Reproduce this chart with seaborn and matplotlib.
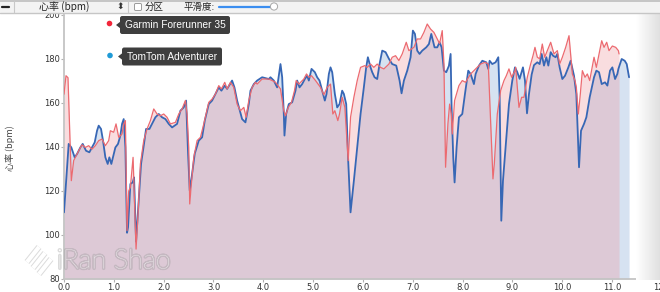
import numpy as np
import pandas as pd
import matplotlib
matplotlib.use("Agg")
import matplotlib.pyplot as plt
from matplotlib.patches import Rectangle, FancyBboxPatch, Polygon, Circle
import matplotlib.patheffects as pe
import seaborn as sns

# ---------------- data ----------------
garmin_km = [0, 0.04, 0.08, 0.147, 0.194, 0.295, 0.361, 0.428, 0.495, 0.562,
             0.629, 0.696, 0.763, 0.830, 0.897, 0.930, 0.997, 1.044, 1.098, 1.165,
             1.198, 1.232, 1.265, 1.299, 1.332, 1.386, 1.446, 1.486, 1.533, 1.600,
             1.667, 1.734, 1.801, 1.867, 1.934, 2.001, 2.068, 2.135, 2.236, 2.303,
             2.369, 2.436, 2.470, 2.503, 2.523, 2.550, 2.604, 2.671, 2.738, 2.805,
             2.905, 2.972, 3.039, 3.106, 3.159, 3.226, 3.273, 3.340, 3.407, 3.474,
             3.541, 3.608, 3.655, 3.708, 3.775, 3.842, 3.876, 3.976,
             4.110, 4.177, 4.244, 4.344, 4.411, 4.445, 4.498, 4.565, 4.625, 4.659,
             4.712, 4.813, 4.866, 4.913, 4.967, 5.047, 5.147, 5.214, 5.281, 5.348,
             5.395, 5.435, 5.495, 5.529, 5.582, 5.636, 5.703, 5.750, 5.817, 5.884,
             5.951, 6.038, 6.084, 6.151, 6.218, 6.285, 6.352, 6.419, 6.520, 6.586,
             6.653, 6.720, 6.787, 6.868, 6.921, 7.022, 7.088, 7.155, 7.222, 7.289,
             7.356, 7.423, 7.490, 7.537, 7.590, 7.624, 7.657, 7.704, 7.738, 7.771,
             7.791, 7.838, 7.925, 7.992,
             8.059, 8.159, 8.260, 8.360, 8.447, 8.514, 8.608, 8.635, 8.695, 8.762,
             8.829, 8.876, 8.929, 8.983, 9.050, 9.063, 9.130, 9.183, 9.230, 9.297,
             9.364, 9.411, 9.451, 9.498, 9.545, 9.598, 9.645, 9.699, 9.766, 9.833,
             9.900, 9.946, 10.000, 10.067, 10.134, 10.201, 10.254, 10.281, 10.321, 10.355,
             10.402, 10.455, 10.502, 10.549, 10.636, 10.683, 10.723, 10.790, 10.837, 10.890,
             10.937, 11.004, 11.071, 11.125, 11.138]
garmin_bpm = [164, 172.4, 171.5, 124.7, 133.8, 138.3, 141.0, 139.8, 140.6, 139.0,
              140.6, 142.9, 143.6, 140.6, 142.9, 147.4, 146.7, 150.5, 144.4, 145.9,
              150.5, 152.0, 102.0, 120.0, 121.7, 135.3, 93.6, 109.5, 132.3, 142.9,
              148.2, 152.0, 157.3, 155.0, 154.2, 155.0, 153.5, 150.5, 151.2, 155.0,
              157.3, 161.1, 155.0, 139.8, 114.1, 121.7, 135.3, 142.9, 144.4, 150.5,
              160.3, 161.8, 164.1, 167.9, 166.4, 169.4, 166.4, 169.4, 167.1, 159.5,
              156.5, 158.0, 153.5, 161.1, 167.1, 169.4, 168.6, 170.9,
              170.9, 170.2, 169.4, 166.4, 156.5, 154.2, 157.9, 160.3, 165.6, 170.2,
              168.6, 170.9, 173.2, 171.7, 172.4, 170.2, 167.1, 163.7, 167.1, 168.6,
              155.0, 156.5, 152.0, 155.0, 162.6, 158.0, 133.8, 153.5, 162.6, 170.2,
              176.2, 177.0, 176.2, 177.7, 176.2, 177.7, 176.2, 175.5, 177.7, 180.8,
              181.5, 179.3, 182.3, 187.6, 183.8, 185.3, 189.1, 189.1, 192.1, 195.9,
              193.6, 192.1, 189.1, 187.0, 192.9, 177.7, 130.8, 150.5, 159.5, 155.0,
              145.9, 161.1, 167.9, 170.2,
              169.4, 173.2, 175.5, 177.7, 178.5, 177.7, 125.5, 132.3, 155.0, 165.6,
              170.2, 172.4, 175.5, 171.7, 174.7, 176.2, 158.0, 162.6, 162.6, 171.7,
              177.7, 181.5, 185.3, 180.8, 180.1, 186.8, 180.8, 183.8, 187.6, 182.3,
              183.8, 177.7, 180.8, 185.3, 190.6, 173.2, 170.2, 167.1, 155.0, 162.6,
              174.7, 171.7, 173.2, 170.2, 180.8, 176.2, 180.8, 188.3, 185.3, 187.6,
              183.8, 185.9, 185.3, 183.8, 182.3]

tomtom_km = [0, 0.094, 0.147, 0.214, 0.261, 0.328, 0.375, 0.442, 0.509, 0.562,
             0.616, 0.663, 0.696, 0.743, 0.783, 0.830, 0.877, 0.910, 0.950, 1.031,
             1.084, 1.131, 1.165, 1.198, 1.232, 1.265, 1.285, 1.332, 1.379, 1.406,
             1.446, 1.499, 1.546, 1.600, 1.647, 1.714, 1.767, 1.834, 1.901, 1.968,
             2.035, 2.102, 2.169, 2.269, 2.336, 2.403, 2.450, 2.490, 2.523, 2.570,
             2.624, 2.704, 2.771, 2.825, 2.905, 2.972, 3.039, 3.106, 3.159, 3.226,
             3.273, 3.373, 3.420, 3.474, 3.574, 3.641, 3.708, 3.742, 3.809, 3.876,
             3.976,
             4.110, 4.143, 4.210, 4.277, 4.344, 4.378, 4.411, 4.424, 4.458, 4.511,
             4.578, 4.645, 4.679, 4.726, 4.779, 4.833, 4.880, 4.913, 4.967, 5.034,
             5.080, 5.127, 5.181, 5.234, 5.268, 5.315, 5.348, 5.382, 5.435, 5.482,
             5.529, 5.582, 5.616, 5.663, 5.703, 5.750, 5.817, 5.884, 5.951, 6.017,
             6.064, 6.098, 6.151, 6.185, 6.232, 6.285, 6.332, 6.386, 6.453, 6.520,
             6.586, 6.667, 6.734, 6.774, 6.821, 6.888, 6.955, 7.001, 7.042, 7.088,
             7.135, 7.189, 7.269, 7.323, 7.370, 7.436, 7.490, 7.537, 7.577, 7.624,
             7.671, 7.724, 7.758, 7.778, 7.811, 7.838, 7.878, 7.925, 7.992,
             8.046, 8.112, 8.159, 8.226, 8.260, 8.327, 8.394, 8.474, 8.514, 8.541,
             8.594, 8.661, 8.715, 8.742, 8.775, 8.809, 8.862, 8.929, 8.996, 9.050,
             9.096, 9.143, 9.210, 9.250, 9.291, 9.331, 9.384, 9.431, 9.498, 9.545,
             9.585, 9.632, 9.679, 9.719, 9.766, 9.813, 9.866, 9.900, 9.946, 10.000,
             10.054, 10.121, 10.167, 10.234, 10.281, 10.335, 10.375, 10.435, 10.482, 10.549,
             10.636, 10.683, 10.736, 10.790, 10.857, 10.904, 10.957, 11.004, 11.058, 11.104,
             11.125, 11.191, 11.252, 11.292, 11.339]
tomtom_bpm = [110.3, 141.4, 139.8, 135.3, 136.8, 139.8, 141.4, 138.3, 137.6, 139.8,
              142.1, 147.4, 149.7, 148.2, 142.9, 135.3, 132.3, 135.3, 132.3, 139.8,
              141.4, 145.2, 150.5, 152.7, 139.8, 101.0, 103.5, 123.2, 123.9, 126.2,
              97.0, 115.6, 132.3, 140.6, 148.2, 148.2, 150.5, 153.5, 155.0, 153.5,
              152.7, 150.5, 148.9, 150.5, 156.5, 158.0, 161.1, 137.0, 120.2, 127.7,
              137.0, 142.9, 144.4, 152.0, 159.5, 161.1, 164.1, 167.1, 165.6, 167.9,
              166.4, 170.2, 167.1, 161.1, 152.7, 151.2, 159.5, 165.6, 168.6, 170.2,
              171.7,
              170.9, 171.7, 170.2, 167.1, 177.7, 171.7, 155.0, 145.2, 155.0, 159.5,
              160.3, 165.6, 170.2, 167.1, 168.6, 170.9, 172.4, 170.2, 175.5, 174.0,
              171.7, 170.2, 165.6, 161.1, 164.1, 173.2, 176.2, 174.0, 164.1, 158.0,
              159.5, 165.6, 164.1, 159.5, 133.8, 110.3, 124.7, 139.8, 155.0, 167.1,
              176.2, 180.8, 176.2, 174.0, 171.7, 170.9, 177.7, 183.8, 183.1, 180.1,
              177.7, 177.0, 170.2, 164.4, 170.2, 174.7, 180.8, 192.9, 191.4, 183.8,
              182.3, 183.8, 185.3, 186.8, 191.4, 185.3, 185.3, 187.6, 185.3, 174.7,
              174.0, 176.9, 182.3, 158.0, 135.3, 123.9, 139.8, 153.5, 155.0,
              164.1, 174.7, 173.2, 168.6, 173.2, 177.0, 179.2, 178.5, 175.5, 179.2,
              177.7, 178.5, 180.8, 162.6, 106.5, 124.7, 139.8, 159.5, 170.2, 176.2,
              174.0, 171.0, 176.2, 170.2, 155.3, 164.1, 172.9, 177.2, 178.5, 177.7,
              182.3, 177.0, 180.8, 177.0, 183.1, 181.5, 180.8, 182.3, 176.2, 170.9,
              172.4, 176.2, 179.2, 172.4, 164.1, 130.8, 147.4, 150.5, 153.5, 162.6,
              171.7, 174.7, 174.0, 168.6, 169.4, 167.9, 174.7, 176.2, 170.9, 173.2,
              175.5, 180.0, 179.2, 177.7, 171.7]

series_names = ["Garmin Forerunner 35", "TomTom Adventurer"]
y_ticks = [80, 100, 120, 140, 160, 180, 200]
x_ticks = list(range(0, 13))
y_label = "心率 (bpm)"

# ---------------- style ----------------
sns.set_style("white")
plt.rcParams["font.family"] = ["DejaVu Sans", "Noto Sans CJK SC"]
CJK = ["Noto Sans CJK SC", "DejaVu Sans"]

red_line = "#ec6a70"
blue_line = "#3767b5"
blue_fill = "#d6e2f1"
red_fill = "#ee9098"

df_g = pd.DataFrame({"km": garmin_km, "bpm": garmin_bpm})
df_t = pd.DataFrame({"km": tomtom_km, "bpm": tomtom_bpm})

W, H = 660, 292
fig = plt.figure(figsize=(W / 100, H / 100), dpi=100)
ax = fig.add_axes([64 / W, 13 / H, 598 / W, 264 / H])

ax.fill_between(df_t["km"], df_t["bpm"], 80, color=blue_fill, linewidth=0, zorder=1)
ax.fill_between(df_g["km"], df_g["bpm"], 80, color=red_fill, alpha=0.3, linewidth=0, zorder=2)
sns.lineplot(data=df_t, x="km", y="bpm", ax=ax, color=blue_line, linewidth=1.3,
             estimator=None, sort=False, zorder=3)
sns.lineplot(data=df_g, x="km", y="bpm", ax=ax, color=red_line, linewidth=0.9,
             estimator=None, sort=False, zorder=4)

ax.set_xlim(0, 12)
ax.set_ylim(80, 200)
ax.set_xticks(x_ticks)
ax.set_xticklabels([f"{v:.1f}" for v in x_ticks])
ax.set_yticks(y_ticks)
ax.set_xlabel("")
ax.set_ylabel("")
for s in ["top", "right"]:
    ax.spines[s].set_visible(False)
for s in ["left", "bottom"]:
    ax.spines[s].set_color("#c4c4c4")
    ax.spines[s].set_linewidth(1.3)
ax.tick_params(axis="both", which="both", length=2, width=0.8, color="#b0b0b0",
               labelsize=6, labelcolor="#333333", pad=1, bottom=True, left=True)
ax.tick_params(axis="x", pad=0.6)

fig.text(10 / W, 1 - 148 / H, y_label, rotation=90, ha="center", va="center",
         fontsize=6.5, color="#444444", family=CJK)

# ---------------- overlay (toolbar, tooltips, watermark) ----------------
ov = fig.add_axes([0, 0, 1, 1], zorder=10)
ov.set_xlim(0, W)
ov.set_ylim(H, 0)
ov.axis("off")

# right screenshot shade
grad = np.linspace(1.0, 0.88, 50).reshape(1, -1)
ov.imshow(np.dstack([grad, grad, grad]), extent=(636, 660, 280, 13), aspect="auto",
          interpolation="bilinear", zorder=0.5)

# toolbar
ov.add_patch(Rectangle((0, 0), W, 13, facecolor="#f3f3f3", edgecolor="none", zorder=1))
ov.plot([0, W], [0.6, 0.6], color="#bdbdbd", lw=1.2, zorder=2)
ov.plot([0, W], [13, 13], color="#c6c6c6", lw=1.0, zorder=2)
ov.plot([13.5, 13.5], [0, 13], color="#c8c8c8", lw=0.8, zorder=2)
ov.plot([128, 128], [0, 13], color="#c8c8c8", lw=0.8, zorder=2)
ov.plot([2, 9], [6.5, 6.5], color="#222222", lw=1.6, zorder=3)
ov.text(64, 7, "心率 (bpm)", ha="center", va="center", fontsize=7.2, color="#222222",
        family=CJK, zorder=3)
ov.text(120, 7, "⬍", ha="center", va="center", fontsize=6.5, color="#333333", zorder=3)
ov.add_patch(FancyBboxPatch((134.5, 3.5), 7, 7, boxstyle="round,pad=0,rounding_size=1.2",
                            facecolor="white", edgecolor="#9a9a9a", lw=0.7, zorder=3))
ov.text(145, 7, "分区", ha="left", va="center", fontsize=6.8, color="#222222",
        family=CJK, zorder=3)
ov.text(183, 7, "平滑度:", ha="left", va="center", fontsize=6.8, color="#222222",
        family=CJK, zorder=3)
ov.plot([219, 273], [6.5, 6.5], color="#3b8ef0", lw=1.6, solid_capstyle="round", zorder=3)
ov.add_patch(Circle((274, 6.5), 3.6, facecolor="white", edgecolor="#a8a8a8", lw=0.7, zorder=4))

# tooltips (legend)
def tooltip(dot_xy, dot_color, box_x, box_y, box_w, box_h, text):
    ov.add_patch(Circle(dot_xy, 2.8, facecolor=dot_color, edgecolor="none", zorder=5))
    ov.add_patch(FancyBboxPatch((box_x, box_y), box_w, box_h,
                                boxstyle="round,pad=0,rounding_size=2.2",
                                facecolor="#3e3e3e", edgecolor="none", zorder=5))
    cy = box_y + box_h / 2
    ov.add_patch(Polygon([(box_x + 0.5, cy - 3.5), (box_x - 4, cy), (box_x + 0.5, cy + 3.5)],
                         closed=True, facecolor="#3e3e3e", edgecolor="none", zorder=5))
    ov.text(box_x + box_w / 2, cy + 0.3, text, ha="center", va="center", fontsize=7.3,
            color="white", family="Liberation Sans", zorder=6)

tooltip((109.5, 23.5), "#f2263a", 120, 16, 110, 18, series_names[0])
tooltip((110, 55.5), "#1f9ad6", 122, 47.5, 100, 18, series_names[1])

# watermark (white with soft grey halo)
halo = [pe.Stroke(linewidth=2.2, foreground="#9a9a9a", alpha=0.35), pe.Normal()]
for x0, y0 in [(27, 262), (33, 268), (39, 274)]:
    ov.plot([x0, x0 + 12], [y0, y0 - 15], lw=3.0, color="white",
            solid_capstyle="butt", zorder=7,
            path_effects=[pe.Stroke(linewidth=4.4, foreground="#9a9a9a", alpha=0.35),
                          pe.Normal()])
ov.text(57, 261, "iRan Shao", ha="left", va="center", fontsize=19.5,
        color="white", family="Lato", fontweight="light", zorder=7,
        path_effects=halo)

fig.savefig("out.png", dpi=100, facecolor="white")
